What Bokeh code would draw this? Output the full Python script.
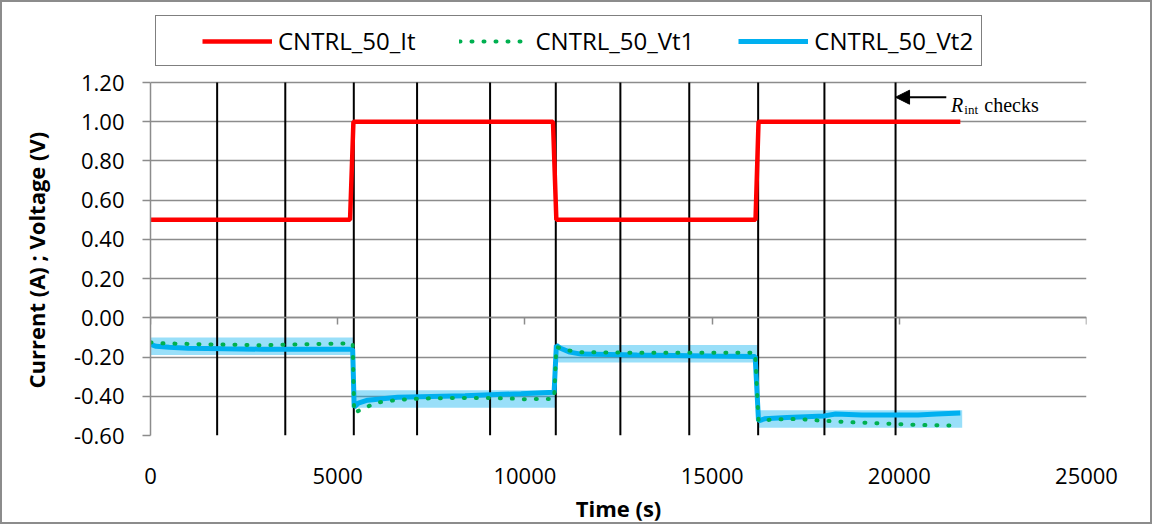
from bokeh.plotting import figure
from bokeh.models import (Range1d, FixedTicker, NumeralTickFormatter, LinearAxis,
                          Legend, LegendItem, Label, Arrow, NormalHead, Title)
from bokeh.embed import file_html
from bokeh.resources import INLINE

# ---------------- data ----------------
time_it = [0, 5330, 5420, 10750, 10840, 16160, 16240, 21630]
cntrl_50_it = [0.5, 0.5, 1.0, 1.0, 0.5, 0.5, 1.0, 1.0]

time_vt1 = [0, 300, 1500, 3000, 4000, 5400,
            5440, 5760, 6070, 6360, 6700, 7300, 8500, 9500, 10000, 10780,
            10840, 11100, 11500, 13000, 16150,
            16240, 16650, 17300, 17900, 18800, 19500, 20100, 20700, 21500]
cntrl_50_vt1 = [-0.125, -0.130, -0.135, -0.140, -0.135, -0.130,
                -0.485, -0.455, -0.432, -0.424, -0.417, -0.411, -0.408, -0.410, -0.415, -0.413,
                -0.148, -0.165, -0.175, -0.178, -0.178,
                -0.525, -0.518, -0.516, -0.524, -0.533, -0.538, -0.543, -0.547, -0.549]

time_vt2 = [0, 150, 500, 1000, 2000, 3000, 4500, 5400,
            5440, 5550, 5800, 6600, 8400, 9900, 10780,
            10840, 10950, 11200, 11500, 13000, 15000, 16150,
            16240, 16400, 17000, 18000, 18300, 19000, 20500, 21000, 21630]
cntrl_50_vt2 = [-0.135, -0.145, -0.150, -0.155, -0.158, -0.160, -0.160, -0.160,
                -0.455, -0.435, -0.420, -0.405, -0.397, -0.387, -0.380,
                -0.140, -0.155, -0.175, -0.185, -0.190, -0.195, -0.197,
                -0.525, -0.515, -0.508, -0.500, -0.490, -0.495, -0.495, -0.490, -0.485]

band_start = [0, 5430, 10825, 16225]
band_end = [5430, 10825, 16225, 21680]
band_low = [-0.190, -0.459, -0.228, -0.561]
band_high = [-0.100, -0.369, -0.139, -0.471]

rint_times = [1780, 3600, 5430, 7120, 9070, 10825, 12550, 14390, 16230, 18000, 19900]

x_ticks = [0, 5000, 10000, 15000, 20000, 25000]
y_ticks = [-0.6, -0.4, -0.2, 0.0, 0.2, 0.4, 0.6, 0.8, 1.0, 1.2]
legend_labels = ["CNTRL_50_It", "CNTRL_50_Vt1", "CNTRL_50_Vt2"]

x_min, x_max = 0, 25000
y_min, y_max = -0.6, 1.2
y_view_top = 1.557   # extra room above the axis for the legend

# annotation positions (data units)
arrow_tail_x, arrow_y = 21255, 1.125
r_label_x, r_label_y = 21382, 1.084
sub_label_x, sub_label_y = 21736, 1.064
checks_label_x = 22270

GRID = "#8c8c8c"
FONT = "Open Sans"

# ---------------- figure ----------------
p = figure(width=1152, height=524, x_range=Range1d(x_min, x_max), y_range=Range1d(y_min, y_view_top),
           output_backend="svg", toolbar_location=None,
           min_border_left=147, min_border_right=68, min_border_top=10, min_border_bottom=91)
p.styles = {"border": "2px solid #8c8c8c"}
p.background_fill_color = "white"
p.border_fill_color = "white"
p.outline_line_color = None

# bands
p.quad(left=band_start, right=band_end, bottom=band_low, top=band_high,
       fill_color="#00B0F0", fill_alpha=0.4, line_color=None)
# Rint check lines
p.segment(x0=rint_times, y0=[y_min] * len(rint_times), x1=rint_times, y1=[y_max] * len(rint_times),
          line_color="black", line_width=2)

blue = p.line(time_vt2, cntrl_50_vt2, line_color="#00B0F0", line_width=5)
green = p.line(time_vt1, cntrl_50_vt1, line_color="#00B050", line_width=4,
               line_dash="1 11", line_cap="round")
red = p.line(time_it, cntrl_50_it, line_color="#FF0000", line_width=4.5)

# grid
p.xgrid.visible = False
p.ygrid.ticker = FixedTicker(ticks=y_ticks)
p.ygrid.grid_line_color = GRID
p.ygrid.grid_line_width = 1.5

# y axis
ya = p.yaxis[0]
ya.bounds = (y_min, y_max)
ya.ticker = FixedTicker(ticks=y_ticks)
ya.formatter = NumeralTickFormatter(format="0.00")
ya.axis_line_color = GRID
ya.axis_line_width = 1.5
ya.major_tick_line_color = GRID
ya.major_tick_line_width = 1.5
ya.major_tick_out = 8
ya.major_tick_in = 0
ya.minor_tick_line_color = None
ya.major_label_standoff = 18
ya.major_label_text_font = FONT
ya.major_label_text_font_size = "22px"
ya.major_label_text_color = "black"

# y axis title, centred on the -0.60 .. 1.20 span
p.add_layout(Title(text="Current (A) ; Voltage (V)", align="left", offset=47,
                   vertical_align="top", standoff=36,
                   text_font=FONT, text_font_size="22px", text_font_style="bold",
                   text_color="black"), "left")

# x axis (labels only, at the bottom)
xa = p.xaxis[0]
xa.ticker = FixedTicker(ticks=x_ticks)
xa.axis_line_color = None
xa.major_tick_line_color = None
xa.major_tick_out = 0
xa.major_tick_in = 0
xa.minor_tick_line_color = None
xa.major_label_standoff = 32
xa.major_label_text_font = FONT
xa.major_label_text_font_size = "22px"
xa.major_label_text_color = "black"
xa.axis_label = "Time (s)"
xa.axis_label_text_font = FONT
xa.axis_label_text_font_size = "22px"
xa.axis_label_text_font_style = "bold"
xa.axis_label_text_color = "black"
xa.axis_label_standoff = 6

# horizontal axis line crossing at y = 0
ax0 = LinearAxis(fixed_location=0, ticker=FixedTicker(ticks=x_ticks),
                 axis_line_color=GRID, axis_line_width=1.5,
                 major_tick_line_color=GRID, major_tick_line_width=1.5,
                 major_tick_in=7, major_tick_out=0, minor_tick_line_color=None,
                 major_label_standoff=0, major_label_text_font_size="1px",
                 major_label_overrides={t: "" for t in x_ticks})
p.add_layout(ax0, "above")

# legend (inside the extended frame, above the axis top)
legend = Legend(items=[LegendItem(label=legend_labels[0], renderers=[red]),
                       LegendItem(label=legend_labels[1], renderers=[green]),
                       LegendItem(label=legend_labels[2], renderers=[blue])],
                orientation="horizontal", location=(5, 369),
                glyph_width=70, glyph_height=20, label_standoff=6, spacing=44,
                padding=8, margin=0,
                border_line_color="black", border_line_width=1.5,
                background_fill_color="white", background_fill_alpha=1.0,
                label_text_font=FONT, label_text_font_size="24px", label_text_color="black",
                title=" ", title_location="left", title_standoff=37, title_text_font_size="1px")
p.add_layout(legend)

# Rint annotation
p.add_layout(Arrow(end=NormalHead(size=14, fill_color="black", line_color="black"),
                   x_start=arrow_tail_x, y_start=arrow_y, x_end=rint_times[-1], y_end=arrow_y,
                   line_color="black", line_width=2))
p.add_layout(Label(x=r_label_x, y=r_label_y, text="R", text_font="Liberation Serif",
                   text_font_style="italic", text_font_size="20px", text_baseline="alphabetic",
                   text_color="black"))
p.add_layout(Label(x=sub_label_x, y=sub_label_y, text="int", text_font="Liberation Serif",
                   text_font_size="13px", text_baseline="alphabetic", text_color="black"))
p.add_layout(Label(x=checks_label_x, y=r_label_y, text="checks", text_font="Liberation Serif",
                   text_font_size="20px", text_baseline="alphabetic", text_color="black"))

open("out.html", "w").write(file_html(p, INLINE))
